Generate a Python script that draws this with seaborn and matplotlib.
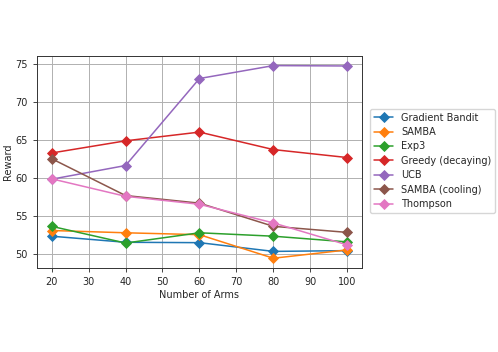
import numpy as np
import pandas as pd
import matplotlib
matplotlib.use('Agg')
import matplotlib.pyplot as plt
import seaborn as sns

arms = [20, 40, 60, 80, 100]
gradient_bandit = [52.3, 51.5, 51.45, 50.3, 50.4]
samba = [53.05, 52.75, 52.5, 49.4, 50.5]
exp3 = [53.6, 51.4, 52.75, 52.3, 51.55]
greedy = [63.25, 64.85, 66.0, 63.7, 62.65]
ucb = [59.8, 61.6, 73.05, 74.75, 74.7]
samba_cooling = [62.5, 57.65, 56.65, 53.6, 52.8]
thompson = [59.85, 57.55, 56.5, 54.05, 51.15]

names = ['Gradient Bandit', 'SAMBA', 'Exp3', 'Greedy (decaying)', 'UCB',
         'SAMBA (cooling)', 'Thompson']
series = [gradient_bandit, samba, exp3, greedy, ucb, samba_cooling, thompson]

df = pd.DataFrame([(n, a, v) for n, s in zip(names, series) for a, v in zip(arms, s)],
                  columns=['Algorithm', 'Number of Arms', 'Reward'])

sns.set_style('ticks')
plt.rcParams['font.family'] = ['DejaVu Sans']
plt.rcParams['font.size'] = 7

fig = plt.figure(figsize=(4.98, 3.52), dpi=100)
ax = fig.add_axes([0.074, 0.239, 0.653, 0.602])
sns.lineplot(data=df, x='Number of Arms', y='Reward', hue='Algorithm',
             hue_order=names, palette='tab10', marker='D', markersize=5.5,
             markeredgewidth=0.6, linewidth=1.1, ax=ax)
# markers with edges in their own colour
for ln in ax.lines:
    ln.set_markeredgecolor(ln.get_color())
ax.grid(True, color='#b0b0b0', linewidth=0.7)
ax.set_xticks([20, 30, 40, 50, 60, 70, 80, 90, 100])
ax.set_yticks([50, 55, 60, 65, 70, 75])
ax.tick_params(labelsize=7, length=3, width=0.6)
for sp in ax.spines.values():
    sp.set_linewidth(0.7)
    sp.set_color('#333333')
ax.set_xlabel('Number of Arms', fontsize=7, labelpad=2)
ax.set_ylabel('Reward', fontsize=7, labelpad=2)
leg = ax.legend(loc='center left', bbox_to_anchor=(1.01, 0.505), fontsize=7,
                frameon=True, handlelength=2, labelspacing=0.45)
for h in leg.legend_handles:
    h.set_markeredgecolor(h.get_color())
fig.savefig('out.png', dpi=100)
